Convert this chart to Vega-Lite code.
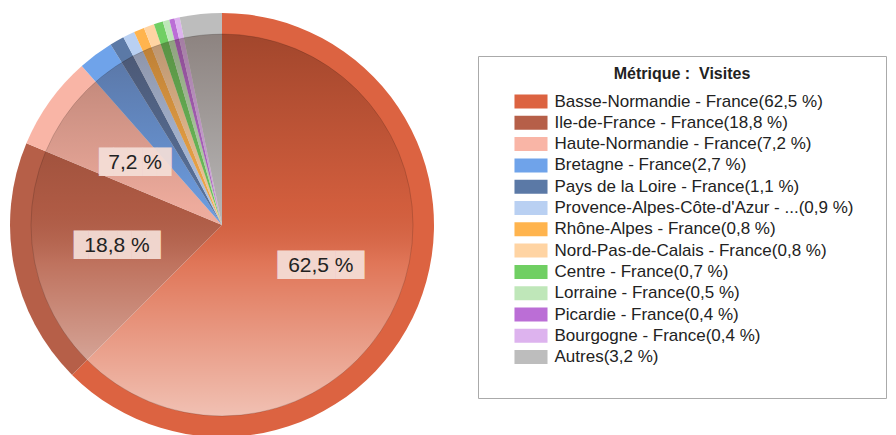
{
  "$schema": "https://vega.github.io/schema/vega-lite/v6.json",
  "width": 444,
  "height": 450,
  "padding": 0,
  "autosize": {"type": "pad"},
  "background": "white",
  "view": {"stroke": null},
  "data": {
    "values": [
      {"order": 1, "region": "Basse-Normandie - France", "value": 62.5},
      {"order": 2, "region": "Ile-de-France - France", "value": 18.8},
      {"order": 3, "region": "Haute-Normandie - France", "value": 7.2},
      {"order": 4, "region": "Bretagne - France", "value": 2.7},
      {"order": 5, "region": "Pays de la Loire - France", "value": 1.1},
      {"order": 6, "region": "Provence-Alpes-Côte-d'Azur - ...", "value": 0.9},
      {"order": 7, "region": "Rhône-Alpes - France", "value": 0.8},
      {"order": 8, "region": "Nord-Pas-de-Calais - France", "value": 0.8},
      {"order": 9, "region": "Centre - France", "value": 0.7},
      {"order": 10, "region": "Lorraine - France", "value": 0.5},
      {"order": 11, "region": "Picardie - France", "value": 0.4},
      {"order": 12, "region": "Bourgogne - France", "value": 0.4},
      {"order": 13, "region": "Autres", "value": 3.2}
    ]
  },
  "transform": [
    {"calculate": "replace(format(datum.value, '.1f'), '.', ',') + ' %'", "as": "pct"},
    {"calculate": "datum.region + '(' + datum.pct + ')'", "as": "legendLabel"},
    {"calculate": "datum.value >= 5 ? datum.pct : ''", "as": "sliceLabel"},
    {"calculate": "datum.value >= 5 ? pad('', length(datum.pct), '\u2588') : ''", "as": "boxLabel"}
  ],
  "layer": [
    {
      "mark": {"type": "arc", "radius": 212},
      "encoding": {
        "theta": {"field": "value", "type": "quantitative", "stack": true},
        "order": {"field": "order", "type": "quantitative"},
        "color": {
          "field": "legendLabel",
          "type": "nominal",
          "sort": {"field": "order", "op": "min"},
          "scale": {
            "range": ["#DC6341", "#B65F48", "#F9B5A6", "#6FA3EA", "#5B79A6", "#B9D0F2", "#FFB44E", "#FFD4A3", "#70CF63", "#BFE7B9", "#BB6ED6", "#DDB3EE", "#BDBDBD"]
          },
          "legend": {
            "orient": "none",
            "legendX": 478,
            "legendY": 56,
            "title": "Métrique\u00a0: \u00a0Visites",
            "titleFont": "Liberation Sans",
            "titleFontSize": 16,
            "titleFontWeight": "bold",
            "titleColor": "#222222",
            "titleAnchor": "middle",
            "titleBaseline": "line-bottom",
            "titleLineHeight": 28,
            "titlePadding": -11,
            "padding": 32,
            "strokeColor": "#aaaaaa",
            "fillColor": "white",
            "labelFont": "Liberation Sans",
            "labelFontSize": 17,
            "labelColor": "#222222",
            "labelLimit": 0,
            "labelExpr": "datum.label + '\u00a0\u00a0\u00a0'",
            "labelOffset": 15,
            "rowPadding": 3.3,
            "symbolType": "M-2.36,-1L2.36,-1L2.36,1L-2.36,1Z",
            "symbolSize": 196,
            "symbolStrokeWidth": 0,
            "symbolOpacity": 1,
            "symbolOffset": 12.5
          }
        }
      }
    },
    {
      "transform": [{"aggregate": [{"op": "sum", "field": "value", "as": "total"}]}],
      "mark": {
        "type": "arc",
        "radius": 191,
        "stroke": "rgba(0,0,0,0.15)",
        "strokeWidth": 1,
        "fill": {
          "gradient": "linear",
          "x1": 0, "y1": 0, "x2": 0, "y2": 1,
          "stops": [
            {"offset": 0, "color": "rgba(40,10,0,0.32)"},
            {"offset": 0.45, "color": "rgba(40,10,0,0.06)"},
            {"offset": 0.6, "color": "rgba(255,255,255,0.12)"},
            {"offset": 1, "color": "rgba(255,255,255,0.6)"}
          ]
        }
      },
      "encoding": {
        "theta": {"field": "total", "type": "quantitative", "stack": true}
      }
    },
    {
      "mark": {"type": "text", "radius": 107, "font": "DejaVu Sans Mono", "fontSize": 24, "color": "#f5dfd8", "opacity": 0.92, "baseline": "middle", "align": "center"},
      "encoding": {
        "theta": {"field": "value", "type": "quantitative", "stack": true},
        "order": {"field": "order", "type": "quantitative"},
        "text": {"field": "boxLabel"}
      }
    },
    {
      "mark": {"type": "text", "radius": 107, "font": "Liberation Sans", "fontSize": 21, "color": "#222222", "baseline": "middle", "align": "center"},
      "encoding": {
        "theta": {"field": "value", "type": "quantitative", "stack": true},
        "order": {"field": "order", "type": "quantitative"},
        "text": {"field": "sliceLabel"}
      }
    }
  ]
}
